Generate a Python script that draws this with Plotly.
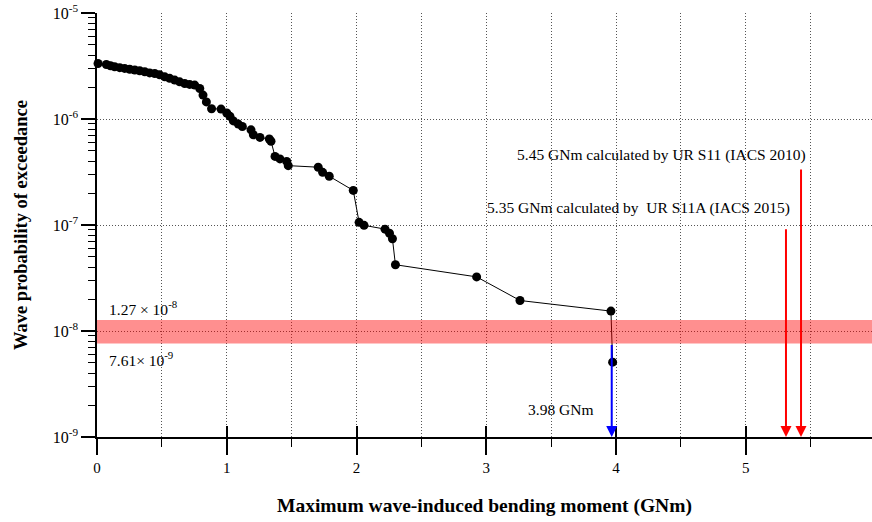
import plotly.graph_objects as go
import math

# Data
moment_gnm = [0.008, 0.072, 0.104, 0.136, 0.175, 0.213, 0.252, 0.291, 0.329, 0.368, 0.406,
              0.445, 0.483, 0.522, 0.560, 0.599, 0.637, 0.676, 0.714, 0.753, 0.792, 0.817,
              0.843, 0.883, 0.956, 1.000, 1.025, 1.051, 1.089, 1.120, 1.187, 1.205, 1.256,
              1.328, 1.341, 1.372, 1.410, 1.462, 1.474, 1.705, 1.739, 1.790, 1.975, 2.020,
              2.058, 2.220, 2.254, 2.277, 2.300, 2.926, 3.260, 3.961, 3.974]
exceedance = [3.34e-6, 3.27e-6, 3.18e-6, 3.11e-6, 3.05e-6, 3.00e-6, 2.95e-6, 2.90e-6, 2.85e-6,
              2.79e-6, 2.72e-6, 2.69e-6, 2.61e-6, 2.50e-6, 2.42e-6, 2.33e-6, 2.24e-6, 2.16e-6,
              2.12e-6, 2.09e-6, 1.94e-6, 1.68e-6, 1.45e-6, 1.25e-6, 1.24e-6, 1.14e-6, 1.06e-6,
              9.6e-7, 8.95e-7, 8.5e-7, 7.9e-7, 7.1e-7, 6.7e-7, 6.47e-7, 6.17e-7, 4.44e-7,
              4.2e-7, 3.98e-7, 3.63e-7, 3.51e-7, 3.14e-7, 2.88e-7, 2.12e-7, 1.06e-7, 9.93e-8,
              9.14e-8, 8.35e-8, 7.41e-8, 4.22e-8, 3.24e-8, 1.94e-8, 1.54e-8, 5.08e-9]

band_low, band_high = 7.61e-9, 1.27e-8
blue_x = 3.967
red_arrows_x = [5.31, 5.426]
red_arrows_top = [9.4e-8, 3.45e-7]

x_ticks = [0, 1, 2, 3, 4, 5]
y_tickvals = [1e-9, 1e-8, 1e-7, 1e-6, 1e-5]
y_ticktext = ["10<sup>-9</sup>", "10<sup>-8</sup>", "10<sup>-7</sup>", "10<sup>-6</sup>", "10<sup>-5</sup>"]
y_minor = [k * 10.0 ** e for e in range(-9, -5) for k in range(2, 10)]

FONT = "Liberation Serif"
XR = [0, 5.973]
GRID = dict(gridcolor="#555", griddash="1px,2px", gridwidth=1)

fig = go.Figure()
fig.add_trace(go.Scatter(x=moment_gnm, y=exceedance, mode="lines+markers",
                         line=dict(color="black", width=1),
                         marker=dict(color="black", size=9),
                         showlegend=False, cliponaxis=False))
fig.add_trace(go.Scatter(x=[None], y=[None], xaxis="x2", showlegend=False))

fig.add_shape(type="rect", xref="paper", yref="y", x0=0, x1=1,
              y0=band_low, y1=band_high, fillcolor="rgba(255,0,0,0.44)",
              line=dict(width=0), layer="above")

# arrows
fig.add_annotation(x=blue_x, y=-9, ax=blue_x, ay=math.log10(band_low), xref="x", yref="y",
                   axref="x", ayref="y", text="", showarrow=True, arrowhead=2, arrowsize=1.1,
                   arrowwidth=2, arrowcolor="#0000FF", standoff=0)
for xv, top in zip(red_arrows_x, red_arrows_top):
    fig.add_annotation(x=xv, y=-9, ax=xv, ay=math.log10(top), xref="x", yref="y",
                       axref="x", ayref="y", text="", showarrow=True, arrowhead=2,
                       arrowsize=1.1, arrowwidth=2, arrowcolor="#FF0000", standoff=0)

tf = dict(family=FONT, size=15.5, color="black")
fig.add_annotation(x=4.347, y=-6.337, text="5.45 GNm calculated by UR S11 (IACS 2010)",
                   showarrow=False, font=tf, xanchor="center", yanchor="middle")
fig.add_annotation(x=4.177, y=-6.836, text="5.35 GNm calculated by\u00a0 UR S11A (IACS 2015)",
                   showarrow=False, font=tf, xanchor="center", yanchor="middle")
fig.add_annotation(x=0.077, y=-7.787, text="1.27 \u00d7 10<sup>-8</sup>",
                   showarrow=False, font=tf, xanchor="left", yanchor="middle")
fig.add_annotation(x=0.077, y=-8.267, text="7.61\u00d7 10<sup>-9</sup>",
                   showarrow=False, font=tf, xanchor="left", yanchor="middle")
fig.add_annotation(x=3.84, y=-8.74, text="3.98 GNm",
                   showarrow=False, font=tf, xanchor="right", yanchor="middle")

fig.update_layout(
    width=872, height=522,
    margin=dict(l=97, r=0, t=13, b=85),
    plot_bgcolor="white", paper_bgcolor="white",
    font=dict(family=FONT, size=15, color="black"),
    xaxis=dict(range=XR, tickvals=x_ticks, ticks="outside", ticklen=16, tickwidth=1.5,
               tickcolor="black", showline=True, linecolor="black", linewidth=1.5,
               showgrid=True, zeroline=False, **GRID,
               tickfont=dict(family=FONT, size=15),
               minor=dict(dtick=0.5, ticks="outside", ticklen=8, tickwidth=1, tickcolor="black",
                          showgrid=True, **GRID),
               title=dict(text="<b>Maximum wave-induced bending moment (GNm)</b>",
                          font=dict(family=FONT, size=19.5), standoff=24)),
    xaxis2=dict(range=XR, overlaying="x", anchor="y", side="bottom", tickvals=x_ticks,
                ticks="inside", ticklen=11, tickwidth=1.5, tickcolor="black",
                showticklabels=False, showgrid=False, showline=False, zeroline=False),
    yaxis=dict(type="log", range=[-9, -5], tickvals=y_tickvals, ticktext=y_ticktext,
               ticks="outside", ticklen=14, tickwidth=1.5, tickcolor="black",
               showline=True, linecolor="black", linewidth=1.5,
               showgrid=True, zeroline=False, **GRID,
               tickfont=dict(family=FONT, size=16),
               minor=dict(tickvals=y_minor, ticks="outside", ticklen=7, tickwidth=1,
                          tickcolor="black", showgrid=False),
               title=dict(text="<b>Wave probability of exceedance</b>",
                          font=dict(family=FONT, size=18.5), standoff=20)),
)

fig.write_html("out.html")
